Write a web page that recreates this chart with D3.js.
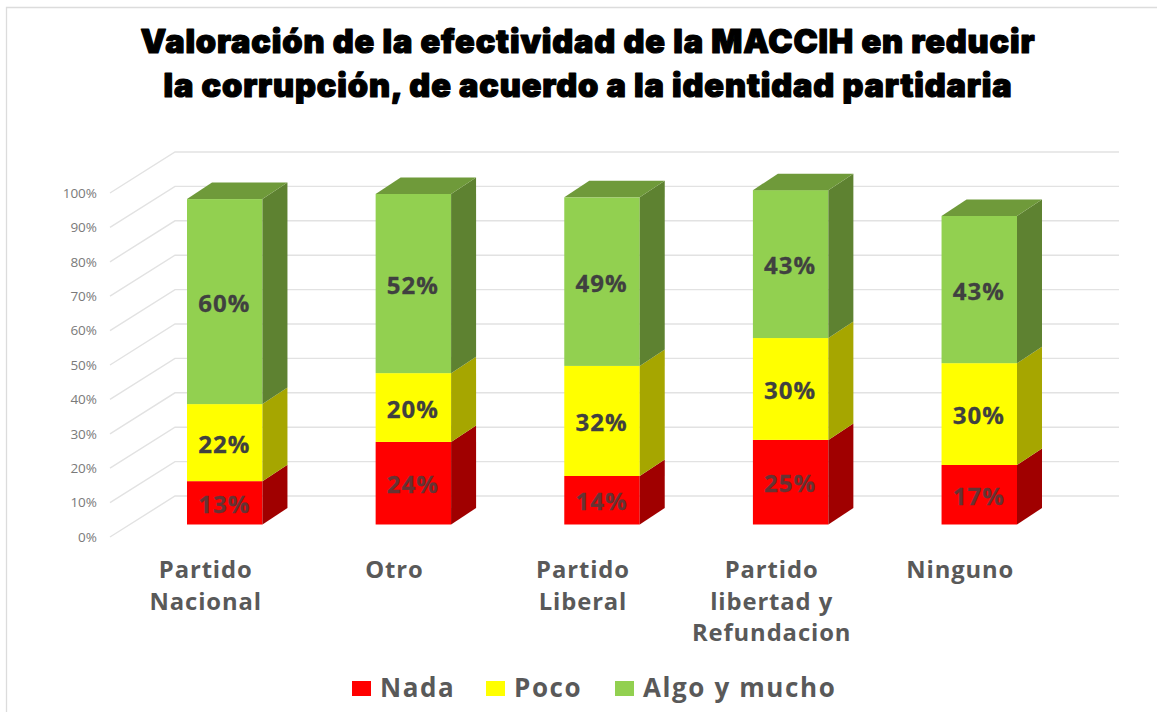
<!DOCTYPE html>
<html><head><meta charset="utf-8">
<script src="https://cdn.jsdelivr.net/npm/d3@7/dist/d3.min.js"></script>
<style>html,body{margin:0;padding:0;background:#fff;overflow:hidden}svg{display:block}</style>
</head><body><svg id="c" width="1157" height="712"></svg>
<script>
const categories = ["Partido Nacional","Otro","Partido Liberal","Partido libertad y Refundacion","Ninguno"];
const categoryLines = [["Partido","Nacional"],["Otro"],["Partido","Liberal"],["Partido","libertad y","Refundacion"],["Ninguno"]];
const seriesNames = ["Nada","Poco","Algo y mucho"];
const nada = [12.6,24.0,14.1,24.6,17.3];
const poco = [22.4,20.0,32.0,29.6,29.6];
const algo = [59.6,52.1,49.0,43.0,42.8];
const frontColors = ["#ff0000","#ffff00","#92d050"];
const sideColors = ["#a00000","#a6a600","#5e8231"];
const topColor = "#6f9a3a";
const yTicks = [0,10,20,30,40,50,60,70,80,90,100];
const titleLines = ["Valoración de la efectividad de la MACCIH en reducir","la corrupción, de acuerdo a la identidad partidaria"];

const svg = d3.select("#c");
const FONT = "'Open Sans', sans-serif";
const wall = {dx:65, dy:-41};
const barDepth = {dx:25, dy:-16.5};
const yFront = d3.scaleLinear().domain([0,100]).range([537,193]);
const yBar = d3.scaleLinear().domain([0,100]).range([524.5,180.5]);
const x = d3.scaleBand().domain(categories).range([187,1017]).paddingInner(0.6).paddingOuter(0);

// frame
svg.append("path").attr("d","M6.5,712V7.5H1157").attr("fill","none").attr("stroke","#dcdcdc").attr("stroke-width",1.3);

// gridlines
const grid = svg.append("g").attr("fill","none").attr("stroke","#e2e2e2").attr("stroke-width",1.4);
grid.selectAll("path").data(yTicks).join("path")
  .attr("d",d=>d3.line()([[110,yFront(d)],[110+wall.dx,yFront(d)+wall.dy],[1119,yFront(d)+wall.dy]]));

// y axis
const axisG = svg.append("g").attr("transform","translate(97,0)")
  .call(d3.axisLeft(yFront).tickValues(yTicks).tickSize(0).tickPadding(0).tickFormat(d=>d+"%"));
axisG.select(".domain").remove();
axisG.selectAll("text").attr("fill","#7a7a7a").attr("font-family",FONT).attr("font-size",13.5);

// stacked bars
const rows = categories.map((c,i)=>({c,vals:[nada[i],poco[i],algo[i]]}));
const bars = svg.append("g");
rows.forEach(r=>{
  let acc=0;
  const x0=x(r.c), w=x.bandwidth();
  r.vals.forEach((v,k)=>{
    const y0=yBar(acc), y1=yBar(acc+v);
    const g=bars.append("g");
    g.append("rect").attr("x",x0).attr("y",y1).attr("width",w).attr("height",y0-y1).attr("fill",frontColors[k]);
    g.append("path").attr("fill",sideColors[k]).attr("d",d3.line()([[x0+w,y0],[x0+w+barDepth.dx,y0+barDepth.dy],[x0+w+barDepth.dx,y1+barDepth.dy],[x0+w,y1]])+"Z");
    if(k===2) g.append("path").attr("fill",topColor).attr("d",d3.line()([[x0,y1],[x0+barDepth.dx,y1+barDepth.dy],[x0+w+barDepth.dx,y1+barDepth.dy],[x0+w,y1]])+"Z");
    acc+=v;
  });
});
// data labels
rows.forEach(r=>{
  let acc=0;
  r.vals.forEach((v,k)=>{
    svg.append("text").attr("x",x(r.c)+x.bandwidth()/2-0.5).attr("y",yBar(acc+v/2)+0.5)
      .attr("text-anchor","middle").attr("dominant-baseline","central")
      .attr("font-family",FONT).attr("font-weight",700).attr("font-size",24)
      .attr("letter-spacing",1).attr("fill","#404040").attr("stroke","#404040").attr("stroke-width",0.3)
      .attr("opacity",k===0?0.8:1).text(Math.round(v)+"%");
    acc+=v;
  });
});

// category labels
categories.forEach((c,i)=>{
  categoryLines[i].forEach((t,j)=>{
    svg.append("text").attr("x",x(c)+x.bandwidth()/2-19).attr("y",578+j*31.5)
      .attr("text-anchor","middle").attr("font-family",FONT).attr("font-weight",700)
      .attr("font-size",23.8).attr("letter-spacing",0.9).attr("fill","#595959").text(t);
  });
});

// legend
const legendX=[352,486,615];
seriesNames.forEach((s,i)=>{
  svg.append("rect").attr("x",legendX[i]).attr("y",681).attr("width",19).attr("height",15).attr("fill",frontColors[i]);
  svg.append("text").attr("x",legendX[i]+28).attr("y",697).attr("font-family",FONT).attr("font-weight",700)
    .attr("font-size",26).attr("letter-spacing",1.6).attr("fill","#595959").text(s);
});

// title
titleLines.forEach((t,i)=>{
  svg.append("text").attr("x",588).attr("y",[53,97][i]).attr("text-anchor","middle")
    .attr("font-family","Inter, sans-serif").attr("font-weight",900).attr("font-size",32.5)
    .attr("letter-spacing",0.85)
    .attr("fill","#000").attr("stroke","#000").attr("stroke-width",1.2).attr("stroke-linejoin","round").attr("paint-order","stroke").text(t);
});
</script></body></html>
